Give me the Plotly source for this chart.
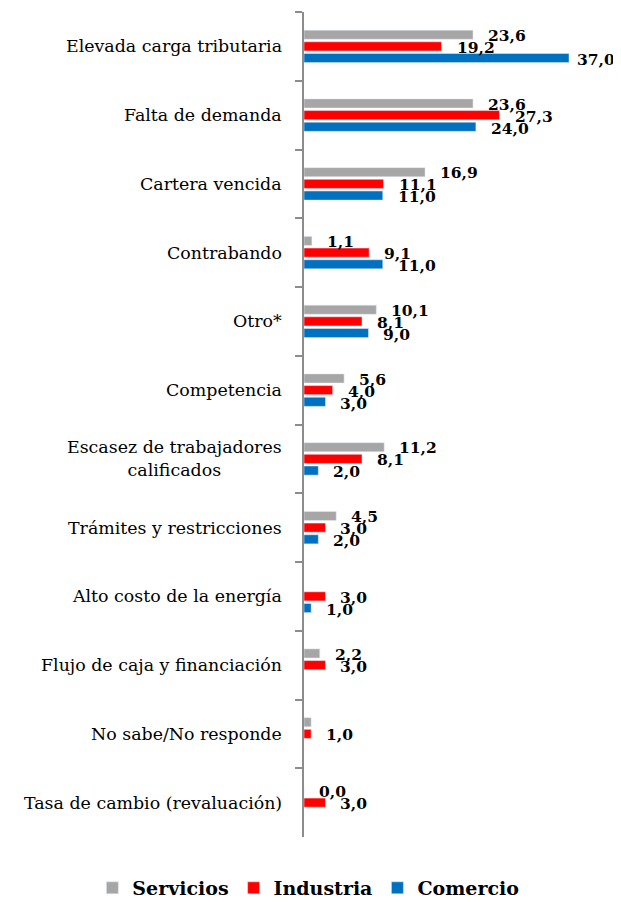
"""Horizontal grouped bar chart: main problems by sector."""

import plotly.graph_objects as go

categories = [
    "Elevada carga tributaria",
    "Falta de demanda",
    "Cartera vencida",
    "Contrabando",
    "Otro*",
    "Competencia",
    "Escasez de trabajadores<br>calificados",
    "Trámites y restricciones",
    "Alto costo de la energía",
    "Flujo de caja y financiación",
    "No sabe/No responde",
    "Tasa de cambio (revaluación)",
]

servicios = [23.6, 23.6, 16.9, 1.1, 10.1, 5.6, 11.2, 4.5, None, 2.2, 1.0, 0.0]
industria = [19.2, 27.3, 11.1, 9.1, 8.1, 4.0, 8.1, 3.0, 3.0, 3.0, 1.0, 3.0]
comercio = [37.0, 24.0, 11.0, 11.0, 9.0, 3.0, 2.0, 2.0, 1.0, None, None, None]

# the small Servicios bar in "No sabe/No responde" carries no label
servicios_labels = ["23,6", "23,6", "16,9", "1,1", "10,1", "5,6", "11,2", "4,5", "", "2,2", "", "0,0"]

X_MAX = 44.26


def fmt(values):
    return ["" if v is None else f"{v:.1f}".replace(".", ",") for v in values]


# name, values, labels, colour, vertical nudge of the value label (px)
series = [
    ("Servicios", servicios, servicios_labels, "#A6A6A6", 11),
    ("Industria", industria, fmt(industria), "#FF0000", -1),
    ("Comercio", comercio, fmt(comercio), "#0070C0", -13),
]

fig = go.Figure()
for name, values, labels, color, nudge in series:
    fig.add_trace(
        go.Bar(
            name=name,
            y=categories,
            x=values,
            orientation="h",
            marker=dict(color=color),
        )
    )
    # value labels a little to the right of each bar end
    for cat, val, lab in zip(categories, values, labels):
        if val is None or not lab:
            continue
        # the longest bar keeps its label tight so it stays on the page
        shift = 6 if val > 0.8 * X_MAX else 13
        fig.add_annotation(
            x=val,
            xref="x",
            y=cat,
            yref="y",
            text=lab,
            showarrow=False,
            xanchor="left",
            xshift=shift,
            yshift=nudge,
            font=dict(family="DejaVu Serif", size=15.5, color="black", weight="bold"),
        )

# category names as centred text blocks left of the axis
for cat in categories:
    fig.add_annotation(
        x=0,
        xref="x",
        y=cat,
        yref="y",
        text=cat,
        showarrow=False,
        xanchor="right",
        align="center",
        xshift=-20,
        font=dict(family="DejaVu Serif", size=17.4, color="black"),
    )

fig.update_layout(
    width=613,
    height=902,
    barmode="group",
    bargap=0.49,
    bargroupgap=0.22,
    plot_bgcolor="white",
    paper_bgcolor="white",
    margin=dict(l=0, r=0, t=4, b=73),
    legend=dict(
        orientation="h",
        xref="container",
        yref="container",
        x=0.49,
        y=0.0244,
        xanchor="center",
        yanchor="middle",
        font=dict(family="DejaVu Serif", size=19, color="black", weight="bold"),
        traceorder="normal",
    ),
    showlegend=True,
)

fig.update_xaxes(range=[0, X_MAX], domain=[296 / 613, 1], visible=False)
fig.update_yaxes(
    autorange="reversed",
    showticklabels=False,
    showline=True,
    linecolor="#8C8C8C",
    linewidth=2,
    ticks="outside",
    tickson="boundaries",
    ticklen=7,
    tickcolor="#8C8C8C",
    tickwidth=2,
    showgrid=False,
)

fig.write_html("out.html")
